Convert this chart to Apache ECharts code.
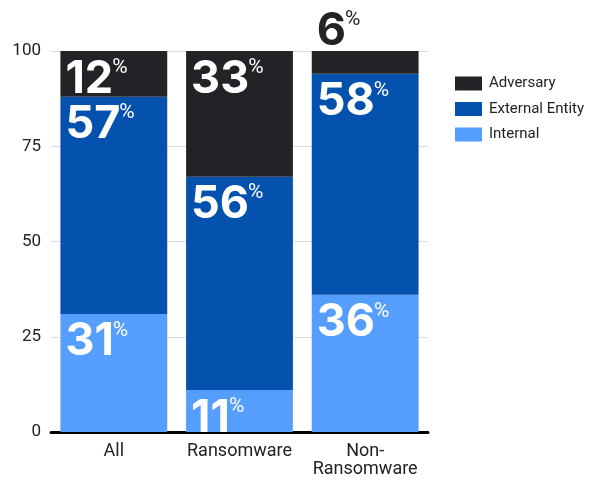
<!DOCTYPE html>
<html><head><meta charset="utf-8">
<script src="https://cdn.jsdelivr.net/npm/echarts@6/dist/echarts.min.js"></script>
<style>html,body{margin:0;padding:0;background:#fff}#c{width:597px;height:481px}</style>
</head><body><div id="c"></div>
<script>
const categories = ['All', 'Ransomware', 'Non-\nRansomware'];
const internalVals = [31, 11, 36];
const externalVals = [57, 56, 58];
const adversaryVals = [12, 33, 6];
const yTicks = [0, 25, 50, 75, 100];

const chart = echarts.init(document.getElementById('c'), null, {renderer: 'canvas'});
const rich = (color) => ({
  a: {fontFamily: 'Inter', fontWeight: 700, fontSize: 45, color: color, lineHeight: 44, padding: [0, -1, 0, 0]},
  b: {fontFamily: 'Roboto', fontSize: 21, color: color, lineHeight: 22, verticalAlign: 'top'}
});
function lab(v, color, pos) {
  return {show: true, position: pos || [5, 6], formatter: '{a|' + v + '}{b|%}', rich: rich(color)};
}
function mkData(vals, name) {
  return vals.map((v, i) => {
    if (name === 'Adversary' && v < 10) return {value: v, label: lab(v, '#222327', [5, -42])};
    return {value: v, label: lab(v, '#ffffff')};
  });
}
chart.setOption({
  animation: false,
  grid: {left: 51, right: 169, top: 51, bottom: 49},
  legend: {
    orient: 'vertical', left: 450, top: 71, itemWidth: 27, itemHeight: 14, itemGap: 10.5,
    icon: 'rect', data: ['Adversary', 'External Entity', 'Internal'],
    textStyle: {fontFamily: 'Roboto', fontSize: 15, color: '#222', padding: [0,0,0,2]}
  },
  xAxis: {
    type: 'category', data: categories,
    axisLine: {lineStyle: {color: '#000', width: 3}},
    axisTick: {show: false},
    axisLabel: {interval: 0, fontFamily: 'Roboto', fontSize: 18, color: '#222', margin: 10, lineHeight: 18}
  },
  yAxis: {
    type: 'value', min: 0, max: 100, interval: 25,
    axisLabel: {fontFamily: 'Roboto', fontSize: 17, color: '#222', margin: 10,
      formatter: (v) => yTicks.includes(v) ? String(v) : ''},
    splitLine: {lineStyle: {color: '#dcdcdc', width: 1}},
    axisLine: {show: false}, axisTick: {show: false}
  },
  series: [
    {name: 'Internal', type: 'bar', stack: 't', barCategoryGap: '15%', data: mkData(internalVals, 'Internal'), itemStyle: {color: '#559efe'}},
    {name: 'External Entity', type: 'bar', stack: 't', data: mkData(externalVals, 'External Entity'), itemStyle: {color: '#0452ad'}},
    {name: 'Adversary', type: 'bar', stack: 't', data: mkData(adversaryVals, 'Adversary'), itemStyle: {color: '#222327'}}
  ]
});
</script></body></html>
